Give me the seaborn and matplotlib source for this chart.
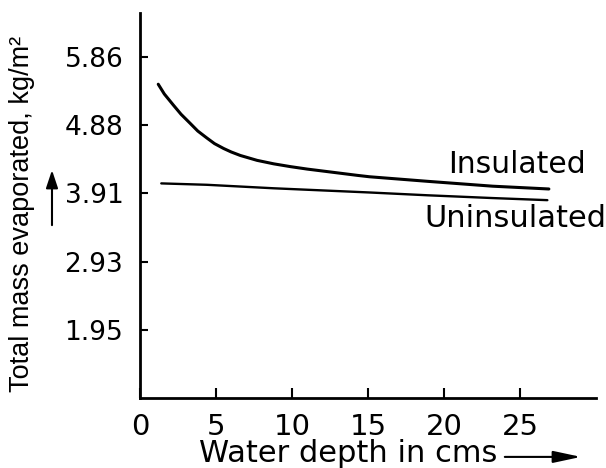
import matplotlib
matplotlib.use("Agg")
import matplotlib.pyplot as plt
import seaborn as sns
import pandas as pd

# values
depth_ins = [1.2, 1.6, 2.2, 2.7, 3.3, 3.8, 4.4, 4.9, 5.5, 6.0, 6.6, 7.7, 8.8, 9.9,
             11.0, 12.1, 13.2, 14.3, 15.1, 18.9, 23.2, 26.9]
mass_ins = [5.47, 5.33, 5.17, 5.04, 4.91, 4.80, 4.70, 4.62, 4.55, 4.50, 4.45, 4.38, 4.33, 4.29,
            4.255, 4.225, 4.195, 4.165, 4.145, 4.08, 4.01, 3.97]

depth_unins = [1.4, 4.4, 8.8, 15.1, 18.9, 23.2, 26.8]
mass_unins = [4.05, 4.03, 3.98, 3.92, 3.88, 3.84, 3.81]

x_ticks = [0, 5, 10, 15, 20, 25]
y_ticks = [1.95, 2.93, 3.91, 4.88, 5.86]
y_tick_labels = ["1.95", "2.93", "3.91", "4.88", "5.86"]

df = pd.concat([
    pd.DataFrame({"depth": depth_ins, "mass": mass_ins, "case": "Insulated"}),
    pd.DataFrame({"depth": depth_unins, "mass": mass_unins, "case": "Uninsulated"}),
])

sns.set_style("ticks")
plt.rcParams['font.family'] = ['DejaVu Sans']
plt.rcParams['text.color'] = 'black'
plt.rcParams['axes.labelcolor'] = 'black'

fig = plt.figure(figsize=(6.06, 4.68), dpi=100)
ax = fig.add_axes([140 / 606, 1 - 398 / 468, 456 / 606, 385 / 468])

sns.lineplot(data=df, x="depth", y="mass", hue="case", palette=["black", "black"],
             ax=ax, legend=False, sort=False)
ax.lines[0].set_linewidth(2.2)
ax.lines[1].set_linewidth(1.7)
for ln in ax.lines:
    ln.set_solid_joinstyle("round")

ax.set_xlim(0, 30)
ax.set_ylim(0.977, 6.49)
ax.set_xticks(x_ticks)
ax.set_yticks(y_ticks)
ax.set_yticklabels(y_tick_labels)

for side in ["top", "right"]:
    ax.spines[side].set_visible(False)
for side in ["left", "bottom"]:
    ax.spines[side].set_linewidth(2)
    ax.spines[side].set_color("black")

ax.tick_params(axis="x", direction="in", length=7, width=1.5, pad=11, labelsize=21, colors="black")
ax.tick_params(axis="y", direction="in", length=6, width=1.5, pad=12, labelsize=19, colors="black")
ax.grid(False)

# curve labels
ax.text(20.25, 4.32, "Insulated", fontsize=21.5, va="center", ha="left")
ax.text(18.7, 3.55, "Uninsulated", fontsize=22, va="center", ha="left")

# axis titles
ax.set_xlabel("Water depth in cms", fontsize=22)
ax.xaxis.label.set_va("center")
ax.xaxis.set_label_coords(0.457, -0.145)

ax.set_ylabel("Total mass evaporated, kg/m²", fontsize=19.5, family=["Liberation Sans", "DejaVu Sans"])
ax.yaxis.label.set_va("center")
ax.yaxis.set_label_coords(-0.259, 0.479)

# direction arrows next to the titles
ax.annotate("", xy=(0.967, -0.153), xytext=(0.800, -0.153), xycoords="axes fraction",
            annotation_clip=False,
            arrowprops=dict(arrowstyle="-|>,head_length=1.4,head_width=0.3", color="black",
                            lw=1.5, mutation_scale=12, shrinkA=0, shrinkB=0))
ax.annotate("", xy=(-0.193, 0.592), xytext=(-0.193, 0.449), xycoords="axes fraction",
            annotation_clip=False,
            arrowprops=dict(arrowstyle="-|>,head_length=0.9,head_width=0.3", color="black",
                            lw=1.5, mutation_scale=12, shrinkA=0, shrinkB=0))

fig.savefig("out.png", dpi=100)
